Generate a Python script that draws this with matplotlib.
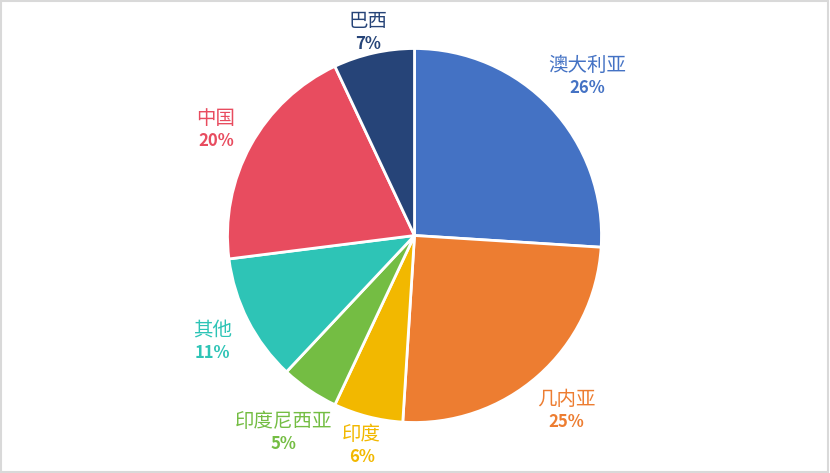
import matplotlib
matplotlib.use("Agg")
import matplotlib.pyplot as plt
import numpy as np

plt.rcParams['font.family'] = ['Noto Sans CJK SC', 'DejaVu Sans']

categories = ["澳大利亚", "几内亚", "印度", "印度尼西亚", "其他", "中国", "巴西"]
values = [26, 25, 6, 5, 11, 20, 7]
colors = ["#4472C4", "#ED7D31", "#F2B800", "#74BD43", "#2EC4B6", "#E84C5F", "#264478"]

fig = plt.figure(figsize=(8.3, 4.73), dpi=100)
W, H = 830, 473
R = 187
cx, cy = 414.5, 235.5
ax = fig.add_axes([(cx - R) / W, (H - cy - R) / H, 2 * R / W, 2 * R / H])
wedges, _ = ax.pie(values, colors=colors, startangle=90, counterclock=False,
                   radius=1.0, wedgeprops=dict(edgecolor="white", linewidth=2))
ax.set_xlim(-1, 1)
ax.set_ylim(-1, 1)
ax.set_aspect("equal")
ax.axis("off")

total = sum(values)
texts = []
for w, name, v, c in zip(wedges, categories, values, colors):
    t1 = ax.text(0, 0, name, ha="center", va="bottom", color=c, fontsize=14, clip_on=False)
    t2 = ax.text(0, 0, f"{round(v / total * 100)}%", ha="center", va="top", color=c,
                 fontsize=12, fontweight="bold", clip_on=False)
    texts.append((w, t1, t2))

fig.canvas.draw()
r = fig.canvas.get_renderer()
gap = 9.0
shift = 5.0
for w, t1, t2 in texts:
    ang = np.deg2rad((w.theta1 + w.theta2) / 2)
    b1 = t1.get_window_extent(r)
    b2 = t2.get_window_extent(r)
    hw = max(b1.width, b2.width) / 2 + 9
    hh = (b1.height + b2.height) / 2 * 0.6
    ux, uy = np.cos(ang), np.sin(ang)
    lo, hi = 0.0, 400.0
    for _ in range(60):
        t = (lo + hi) / 2
        dx = max(abs(t * ux) - hw, 0)
        dy = max(abs(t * uy) - hh, 0)
        if np.hypot(dx, dy) < R + gap:
            lo = t
        else:
            hi = t
    x, y = hi * ux / R, (hi * uy - shift) / R
    t1.set_position((x, y + 0.01))
    t2.set_position((x, y - 0.005))

border = plt.Rectangle((0.001, 0.002), 0.997, 0.995, transform=fig.transFigure,
                       fill=False, edgecolor="#D9D9D9", linewidth=1.5)
fig.patches.append(border)

fig.savefig("out.png", dpi=100)
